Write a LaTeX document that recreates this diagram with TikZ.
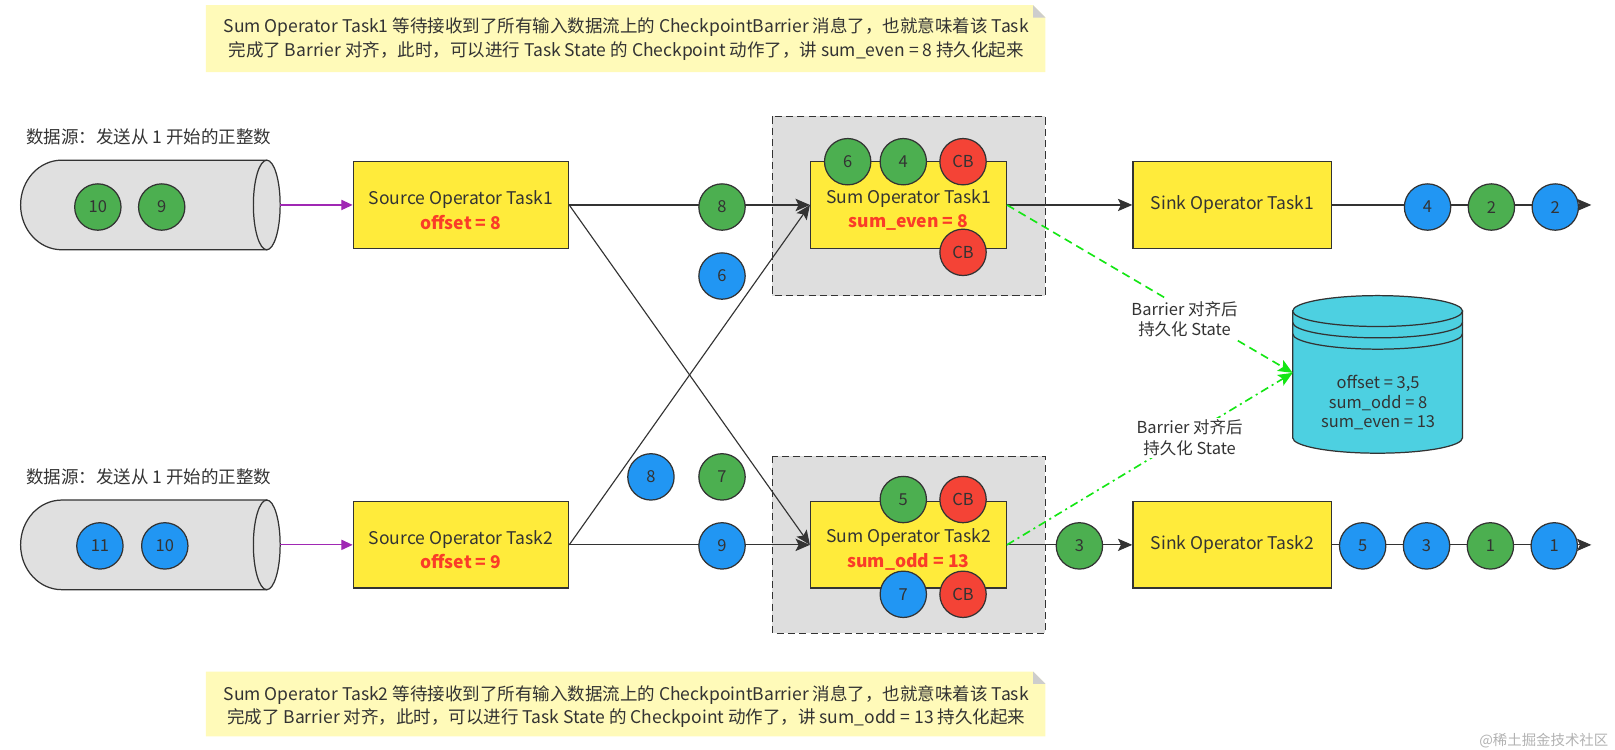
\documentclass[tikz,border=0pt]{standalone}
\usepackage{fontspec}
\setmainfont{Noto Sans CJK SC}
\usetikzlibrary{arrows.meta}
\definecolor{boxyellow}{RGB}{255,235,59}
\definecolor{ballgreen}{RGB}{76,175,80}
\definecolor{ballblue}{RGB}{33,150,243}
\definecolor{ballred}{RGB}{244,67,54}
\definecolor{pipegray}{RGB}{224,224,224}
\definecolor{groupgray}{RGB}{222,222,222}
\definecolor{noteyellow}{RGB}{255,250,185}
\definecolor{notefold}{RGB}{205,205,205}
\definecolor{dbcyan}{RGB}{77,208,225}
\definecolor{statered}{RGB}{250,60,40}
\definecolor{feedpurple}{RGB}{160,40,180}
\definecolor{ckgreen}{RGB}{20,230,20}
\definecolor{inkgray}{RGB}{51,51,51}
\tikzset{
	caption/.style={text=inkgray, font=\fontsize{17}{21}\selectfont},
	task/.style={draw=inkgray, fill=boxyellow, line width=1.3pt, minimum height=84pt, inner sep=0pt, align=center, text=inkgray, font=\fontsize{17}{24}\selectfont},
	ball/.style={circle, draw=inkgray, line width=1.2pt, minimum size=45pt, inner sep=0pt, text=inkgray, font=\fontsize{16}{16}\selectfont},
	even/.style={ball, fill=ballgreen},
	odd/.style={ball, fill=ballblue},
	cb/.style={ball, fill=ballred},
	group/.style={draw=inkgray, fill=groupgray, line width=1.2pt, dash pattern=on 7pt off 4pt},
	pipe/.style={draw=inkgray, fill=pipegray, line width=1.2pt},
	flow/.style={draw=inkgray, line width=1.1pt, -{Stealth[length=14pt,width=12pt,inset=3pt]}},
	feed/.style={draw=feedpurple, line width=1.2pt, -{Triangle[length=11pt,width=10pt]}},
	persist/.style={draw=ckgreen, line width=1.6pt, -{Stealth[length=14pt,width=12pt,inset=3pt]}},
}
\begin{document}
\begin{tikzpicture}[x=1pt,y=-1pt]
			\newcommand{\mystate}[1]{\textcolor{statered}{\bfseries #1}}
			\newcommand{\mytop}{\rule{0pt}{23pt}}
			\useasboundingbox (0,0) rectangle (1568,728);
			%Notes at the top and at the bottom
			\fill[noteyellow] (200,5) -- (1003,5) -- (1015,17) -- (1015,70) -- (200,70) -- cycle;
			\fill[notefold] (1003,5) -- (1003,17) -- (1015,17) -- cycle;
			\node[caption, align=center, font=\fontsize{17}{23}\selectfont] (note1) at (608,38) {Sum Operator Task1 等待接收到了所有输入数据流上的 CheckpointBarrier 消息了，也就意味着该 Task\\完成了 Barrier 对齐，此时，可以进行 Task State 的 Checkpoint 动作了，讲 sum\_even = 8 持久化起来};
			\fill[noteyellow] (200,652) -- (1003,652) -- (1015,664) -- (1015,715) -- (200,715) -- cycle;
			\fill[notefold] (1003,652) -- (1003,664) -- (1015,664) -- cycle;
			\node[caption, align=center, font=\fontsize{17}{23}\selectfont] (note2) at (608,686) {Sum Operator Task2 等待接收到了所有输入数据流上的 CheckpointBarrier 消息了，也就意味着该 Task\\完成了 Barrier 对齐，此时，可以进行 Task State 的 Checkpoint 动作了，讲 sum\_odd = 13 持久化起来};
			%Grey groups round the sum tasks
			\draw[group] (750,113) rectangle (1015,287);
			\draw[group] (750,443) rectangle (1015,615);
			%Data sources
			\node[caption, anchor=west] (lab1) at (22,133) {数据源：发送从 1 开始的正整数};
			\node[caption, anchor=west] (lab2) at (22,463) {数据源：发送从 1 开始的正整数};
			\draw[pipe] (259,155.5) -- (60,155.5) arc[start angle=270, end angle=90, x radius=40, y radius=43.5] -- (259,242.5) -- cycle;
			\draw[pipe] (259,199) ellipse [x radius=13, y radius=43.5];
			\coordinate (pipe1) at (272,199);
			\draw[pipe] (259,485.5) -- (60,485.5) arc[start angle=270, end angle=90, x radius=40, y radius=43.5] -- (259,572.5) -- cycle;
			\draw[pipe] (259,529) ellipse [x radius=13, y radius=43.5];
			\coordinate (pipe2) at (272,529);
			%Tasks
			\node[task, minimum width=209pt] (src1) at (447.5,199) {\mytop Source Operator Task1\\\mystate{offset = 8}};
			\node[task, minimum width=190pt] (sum1) at (882,199) {\mytop Sum Operator Task1\\\mystate{sum\_even = 8}};
			\node[task, minimum width=193pt] (sink1) at (1196.5,199) {Sink Operator Task1};
			\node[task, minimum width=209pt] (src2) at (447.5,529) {\mytop Source Operator Task2\\\mystate{offset = 9}};
			\node[task, minimum width=190pt] (sum2) at (882,529) {\mytop Sum Operator Task2\\\mystate{sum\_odd = 13}};
			\node[task, minimum width=193pt] (sink2) at (1196.5,529) {Sink Operator Task2};
			\coordinate (out1) at (1545,199);
			\coordinate (out2) at (1545,529);
			%Streams
			\draw[feed] (pipe1) -- (src1.west);
			\draw[feed] (pipe2) -- (src2.west);
			\draw[flow] (src1.east) -- (sum1.west);
			\draw[flow] (src1.east) -- (sum2.west);
			\draw[flow] (src2.east) -- (sum1.west);
			\draw[flow] (src2.east) -- (sum2.west);
			\draw[flow] (sum1.east) -- (sink1.west);
			\draw[flow] (sum2.east) -- (sink2.west);
			\draw[flow] (sink1.east) -- (out1);
			\draw[flow] (sink2.east) -- (out2);
			%State store
			\draw[pipe, fill=dbcyan] (1255,302) -- (1255,425) arc[start angle=180, end angle=0, x radius=82.5, y radius=15] -- (1420,302) -- cycle;
			\draw[pipe, fill=dbcyan] (1337.5,302) ellipse [x radius=82.5, y radius=15];
			\draw[inkgray, line width=1.2pt] (1255,313) arc[start angle=180, end angle=0, x radius=82.5, y radius=15];
			\draw[inkgray, line width=1.2pt] (1255,324) arc[start angle=180, end angle=0, x radius=82.5, y radius=15];
			\node[caption, align=center, font=\fontsize{16}{19}\selectfont] (state) at (1338,391) {offset = 3,5\\sum\_odd = 8\\sum\_even = 13};
			\coordinate (dbin) at (1255,362);
			%Barrier alignment
			\draw[persist, dash pattern=on 8pt off 5pt] (sum1.east) -- (dbin);
			\draw[persist, dash pattern=on 8pt off 4pt on 2pt off 4pt] (sum2.east) -- (dbin);
			\node[caption, fill=white, align=center, inner sep=2pt, font=\fontsize{16}{20}\selectfont] (why1) at (1150,310) {Barrier 对齐后\\持久化 State};
			\node[caption, fill=white, align=center, inner sep=2pt, font=\fontsize{16}{20}\selectfont] (why2) at (1155,425) {Barrier 对齐后\\持久化 State};
			%Records in the sources
			\node[even] (qa1) at (95,201) {10};
			\node[even] (qa2) at (157,201) {9};
			\node[odd] (qb1) at (97,530) {11};
			\node[odd] (qb2) at (160,530) {10};
			%Records on the wires
			\node[even] (w8) at (701,201) {8};
			\node[odd] (w6) at (701,268) {6};
			\node[odd] (x8) at (632,463) {8};
			\node[even] (x7) at (701,463) {7};
			\node[odd] (w9) at (701,530) {9};
			\node[even] (w3) at (1048,530) {3};
			%Records buffered by the sum tasks
			\node[even] (sa1) at (823,157) {6};
			\node[even] (sa2) at (877,157) {4};
			\node[cb] (sa3) at (935,157) {CB};
			\node[cb] (sa4) at (935,245) {CB};
			\node[even] (sb1) at (877,485) {5};
			\node[cb] (sb2) at (935,485) {CB};
			\node[odd] (sb3) at (877,577) {7};
			\node[cb] (sb4) at (935,577) {CB};
			%Output of the sinks
			\foreach \x/\v/\c [count=\k] in {1386/4/odd, 1448/2/even, 1510/2/odd} {
				\node[\c] (oa\k) at (\x,201) {\v};
			}
			\foreach \x/\v/\c [count=\k] in {1323/5/odd, 1385/3/odd, 1447/1/even, 1509/1/odd} {
				\node[\c] (ob\k) at (\x,530) {\v};
			}
			\node[text=black!30, anchor=east, font=\fontsize{14}{14}\selectfont] (mark) at (1565,719) {@稀土掘金技术社区};
\end{tikzpicture}
\end{document}
